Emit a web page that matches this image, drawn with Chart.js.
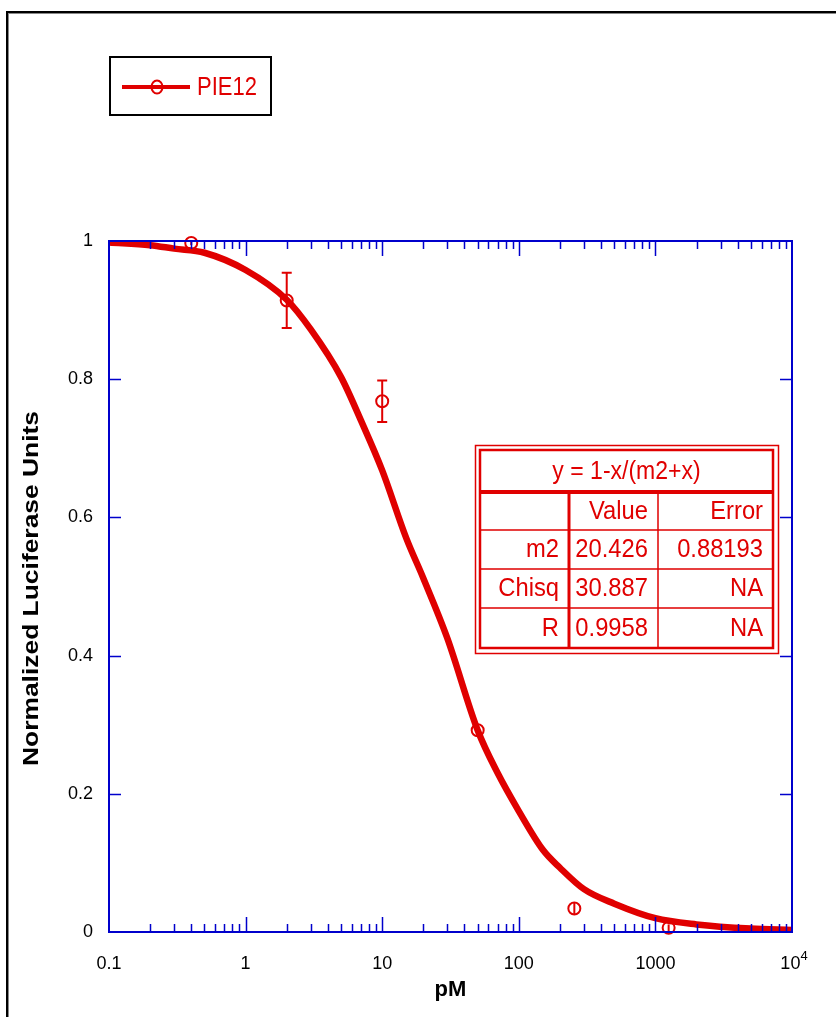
<!DOCTYPE html>
<html>
<head>
<meta charset="utf-8">
<title>PIE12</title>
<script src="https://cdn.jsdelivr.net/npm/chart.js@4/dist/chart.umd.min.js"></script>
<style>
  body { margin: 0; background: #fff; }
  #wrap { position: relative; width: 836px; height: 1017px; overflow: hidden; }
</style>
</head>
<body>
<div id="wrap"><canvas id="plot" width="836" height="1017"></canvas></div>
<script>
// fitted curve
const curveX = [0.1, 0.2, 0.3, 0.5, 1, 2, 3, 5, 7, 10, 15, 20, 30, 50, 70, 100, 150, 200, 300, 500, 1000, 2000, 5000, 10000];
const curveY = [0.998, 0.994, 0.989, 0.983, 0.958, 0.915, 0.872, 0.803, 0.740, 0.668, 0.570, 0.512, 0.425, 0.292, 0.230, 0.175, 0.119, 0.093, 0.062, 0.041, 0.020, 0.011, 0.005, 0.003];

// measured points with error bars
const pointX = [0.4, 2, 10, 50, 255, 1250];
const pointY = [0.997, 0.914, 0.768, 0.292, 0.034, 0.006];
const pointErr = [0.003, 0.04, 0.03, 0.007, 0.008, 0.005];

// tick labels
const xTicks = [0.1, 1, 10, 100, 1000, 10000];
const xTickLabels = ['0.1', '1', '10', '100', '1000', '10^4'];
const yTicks = [0, 0.2, 0.4, 0.6, 0.8, 1];
const yTickLabels = ['0', '0.2', '0.4', '0.6', '0.8', '1'];

// fit table
const fitTitle = 'y = 1-x/(m2+x)';
const fitHeader = ['', 'Value', 'Error'];
const fitRows = [
  ['m2', '20.426', '0.88193'],
  ['Chisq', '30.887', 'NA'],
  ['R', '0.9958', 'NA']
];

const seriesName = 'PIE12';
const RED = '#e00000';
const BLUE = '#0000cc';
const FONT = '"Liberation Sans", Arial, sans-serif';

// text squeezed/stretched along its own direction
function squeezeText(ctx, s, x, y, align, sx) {
  ctx.save();
  ctx.translate(x, y);
  ctx.scale(sx, 1);
  ctx.textAlign = align;
  ctx.fillText(s, 0, 0);
  ctx.restore();
}

const decor = {
  id: 'decor',
  afterDatasetsDraw(chart) {
    const ctx = chart.ctx;
    const xs = chart.scales.x, ys = chart.scales.y;
    const a = chart.chartArea;
    ctx.save();

    // error bars
    ctx.strokeStyle = RED;
    ctx.lineWidth = 2;
    pointX.forEach((v, i) => {
      const px = xs.getPixelForValue(v);
      const top = ys.getPixelForValue(pointY[i] + pointErr[i]);
      const bot = ys.getPixelForValue(pointY[i] - pointErr[i]);
      ctx.beginPath();
      ctx.moveTo(px, top); ctx.lineTo(px, bot);
      if (bot - top > 14) {
        ctx.moveTo(px - 5, top); ctx.lineTo(px + 5, top);
        ctx.moveTo(px - 5, bot); ctx.lineTo(px + 5, bot);
      }
      ctx.stroke();
    });

    // axes box
    ctx.strokeStyle = BLUE;
    ctx.lineWidth = 2;
    ctx.strokeRect(a.left, a.top, a.right - a.left, a.bottom - a.top);

    // x ticks (inside, top and bottom)
    ctx.lineWidth = 1.5;
    ctx.beginPath();
    for (let d = -1; d <= 3; d++) {
      for (let k = 1; k <= 9; k++) {
        if (k === 1 && d === -1) continue;
        const v = k * Math.pow(10, d);
        const px = Math.round(xs.getPixelForValue(v)) + 0.5;
        const len = k === 1 ? 15 : 8;
        ctx.moveTo(px, a.bottom); ctx.lineTo(px, a.bottom - len);
        ctx.moveTo(px, a.top); ctx.lineTo(px, a.top + len);
      }
    }
    // y ticks (inside, left and right)
    yTicks.forEach(v => {
      if (v === 0 || v === 1) return;
      const py = Math.round(ys.getPixelForValue(v)) + 0.5;
      ctx.moveTo(a.left, py); ctx.lineTo(a.left + 12, py);
      ctx.moveTo(a.right, py); ctx.lineTo(a.right - 12, py);
    });
    ctx.stroke();

    // tick labels
    ctx.fillStyle = '#000';
    ctx.font = '18px ' + FONT;
    ctx.textBaseline = 'middle';
    ctx.textAlign = 'right';
    yTicks.forEach((v, i) => {
      ctx.fillText(yTickLabels[i], a.left - 16, ys.getPixelForValue(v));
    });
    ctx.textAlign = 'center';
    xTicks.forEach((v, i) => {
      const px = xs.getPixelForValue(v);
      const lab = xTickLabels[i];
      if (lab.indexOf('^') > 0) {
        const [b, e] = lab.split('^');
        ctx.font = '18px ' + FONT;
        const bw = ctx.measureText(b).width;
        ctx.font = '13px ' + FONT;
        const ew = ctx.measureText(e).width;
        ctx.textAlign = 'left';
        ctx.font = '18px ' + FONT;
        ctx.fillText(b, px - (bw + ew) / 2 + 2, a.bottom + 32);
        ctx.font = '13px ' + FONT;
        ctx.fillText(e, px - (bw + ew) / 2 + 2 + bw, a.bottom + 24);
        ctx.textAlign = 'center';
        ctx.font = '18px ' + FONT;
      } else {
        ctx.fillText(lab, px, a.bottom + 32);
      }
    });

    // axis titles
    ctx.font = 'bold 22px ' + FONT;
    ctx.fillText('pM', (a.left + a.right) / 2, a.bottom + 58);
    ctx.save();
    ctx.translate(32, (a.top + a.bottom) / 2 + 2);
    ctx.rotate(-Math.PI / 2);
    ctx.font = 'bold 22px ' + FONT;
    squeezeText(ctx, 'Normalized Luciferase Units', 0, 0, 'center', 1.2);
    ctx.restore();

    // legend box
    ctx.strokeStyle = '#000';
    ctx.lineWidth = 2;
    ctx.strokeRect(110, 57, 161, 58);
    ctx.strokeStyle = RED;
    ctx.lineWidth = 4;
    ctx.beginPath(); ctx.moveTo(122, 87); ctx.lineTo(190, 87); ctx.stroke();
    ctx.lineWidth = 2;
    ctx.beginPath(); ctx.ellipse(157, 87, 5.5, 6.5, 0, 0, Math.PI * 2); ctx.stroke();
    ctx.fillStyle = RED;
    ctx.font = '25px ' + FONT;
    squeezeText(ctx, seriesName, 197, 88, 'left', 0.88);

    // fit table
    const tx = 475, ty = 445, tw = 303, th = 208;
    const cols = [480, 569, 658, 773];
    const rows = [450, 492, 530, 569, 608, 648];
    ctx.fillStyle = '#fff';
    ctx.fillRect(tx, ty, tw, th);
    ctx.strokeStyle = RED;
    ctx.lineWidth = 1.5;
    ctx.strokeRect(tx + 0.5, ty + 0.5, tw, th);
    ctx.lineWidth = 2.5;
    ctx.strokeRect(cols[0], rows[0], cols[3] - cols[0], rows[5] - rows[0]);
    ctx.lineWidth = 4;
    ctx.beginPath(); ctx.moveTo(cols[0], rows[1]); ctx.lineTo(cols[3], rows[1]); ctx.stroke();
    ctx.lineWidth = 3;
    ctx.beginPath(); ctx.moveTo(cols[1], rows[1]); ctx.lineTo(cols[1], rows[5]); ctx.stroke();
    ctx.lineWidth = 1.5;
    ctx.beginPath();
    ctx.moveTo(cols[2], rows[1]); ctx.lineTo(cols[2], rows[5]);
    for (let r = 2; r <= 4; r++) { ctx.moveTo(cols[0], rows[r]); ctx.lineTo(cols[3], rows[r]); }
    ctx.stroke();

    ctx.fillStyle = RED;
    ctx.font = '25px ' + FONT;
    squeezeText(ctx, fitTitle, (cols[0] + cols[3]) / 2, (rows[0] + rows[1]) / 2 + 1, 'center', 0.92);
    const all = [fitHeader].concat(fitRows);
    all.forEach((row, r) => {
      row.forEach((s, c) => {
        if (!s) return;
        squeezeText(ctx, s, cols[c + 1] - 10, (rows[r + 1] + rows[r + 2]) / 2 + 1, 'right', 0.95);
      });
    });

    // outer frame
    ctx.fillStyle = '#000';
    ctx.fillRect(6, 11, 836, 2);
    ctx.fillRect(6, 11, 2, 1017);
    ctx.fillStyle = '#888';
    ctx.fillRect(8, 13, 836, 1);
    ctx.fillRect(8, 13, 1, 1017);

    ctx.restore();
  }
};

const curveData = curveX.map((x, i) => ({ x: x, y: curveY[i] }));
const pointData = pointX.map((x, i) => ({ x: x, y: pointY[i] }));

new Chart(document.getElementById('plot'), {
  type: 'scatter',
  data: {
    datasets: [
      {
        label: 'fit',
        data: curveData,
        showLine: true,
        borderColor: RED,
        borderWidth: 6.5,
        pointRadius: 0,
        cubicInterpolationMode: 'monotone',
        order: 2
      },
      {
        label: seriesName,
        data: pointData,
        showLine: false,
        borderColor: RED,
        backgroundColor: 'rgba(0,0,0,0)',
        pointRadius: 6,
        borderWidth: 2,
        clip: false,
        order: 1
      }
    ]
  },
  options: {
    responsive: false,
    animation: false,
    events: [],
    layout: { padding: { left: 109, right: 44, top: 241, bottom: 85 } },
    scales: {
      x: { type: 'logarithmic', min: 0.1, max: 10000, display: false },
      y: { type: 'linear', min: 0, max: 1, display: false }
    },
    plugins: { legend: { display: false }, tooltip: { enabled: false } }
  },
  plugins: [decor]
});
</script>
</body>
</html>
